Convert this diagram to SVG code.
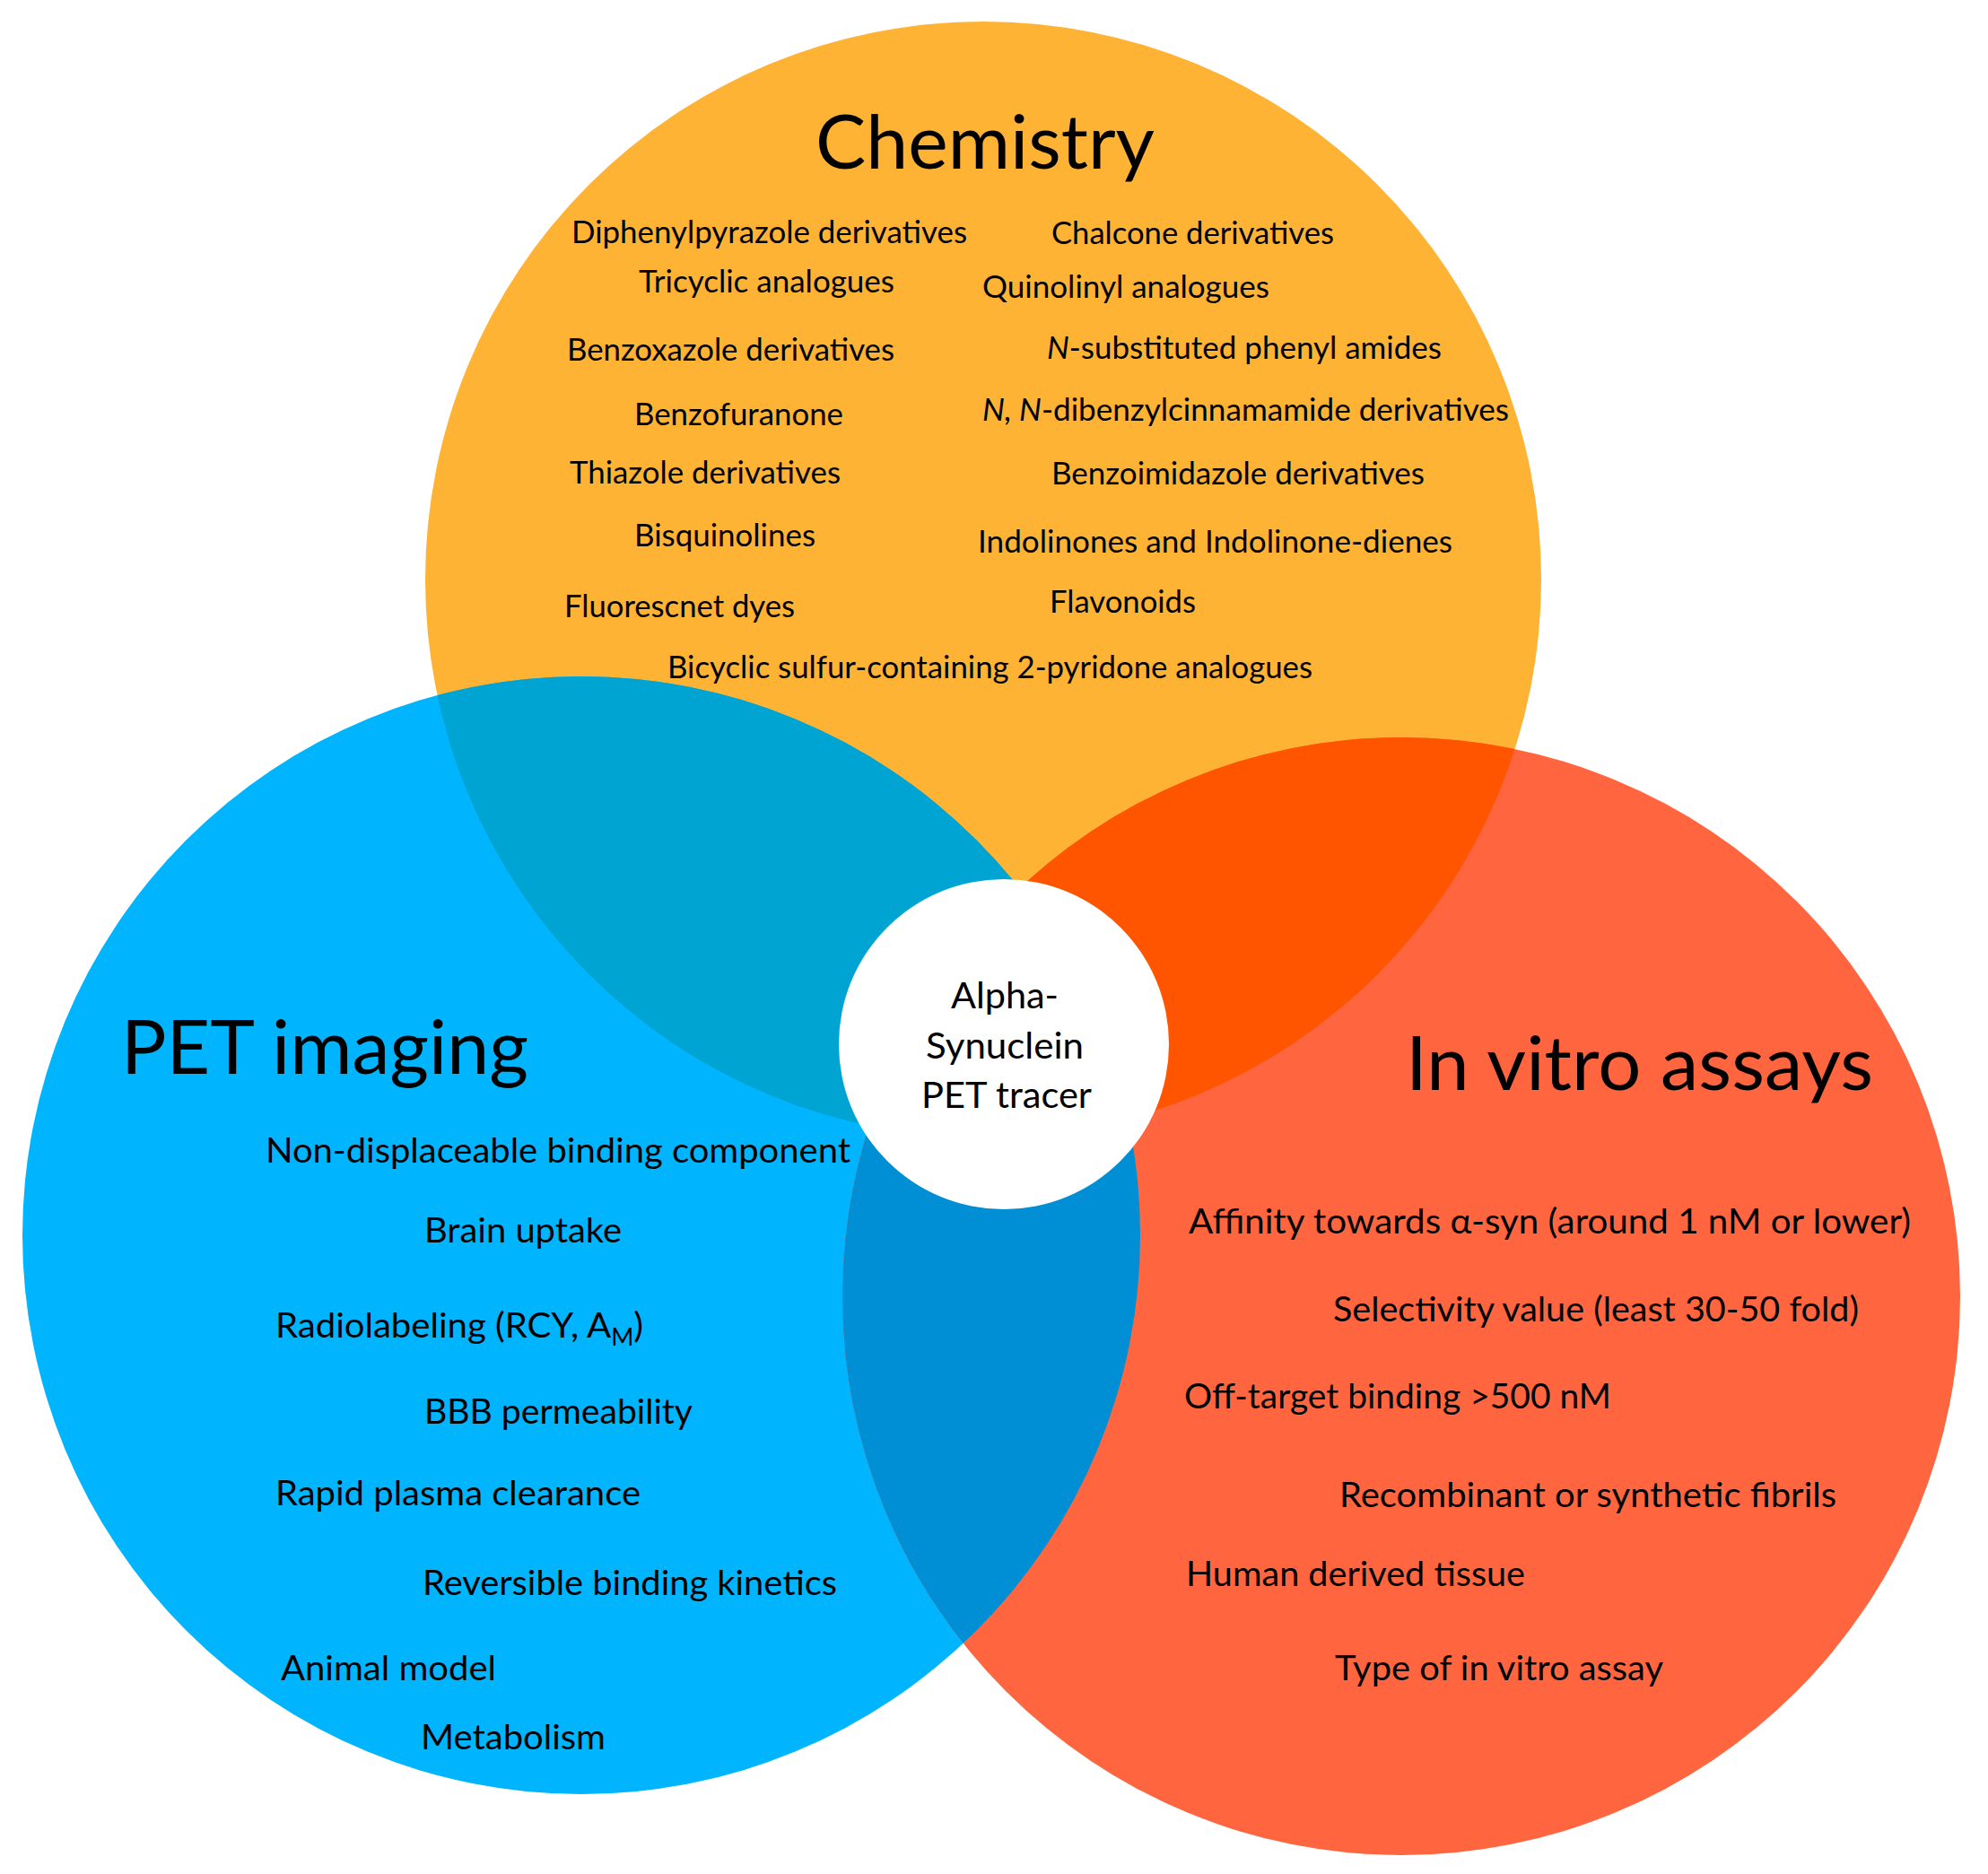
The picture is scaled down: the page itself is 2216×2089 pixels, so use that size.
<svg xmlns="http://www.w3.org/2000/svg" width="2216" height="2089" viewBox="0 0 2216 2089">
<style>
text{font-family:Lato,"Open Sans","Liberation Sans",sans-serif;fill:#000;}
.t{font-size:83px;}
.c{font-size:34px;}
.p{font-size:38.5px;}
.m{font-size:41px;}
.i{font-style:italic;}
</style>
<defs>
<clipPath id="clipChem"><circle cx="1096" cy="646" r="622"/></clipPath>
<clipPath id="clipPet"><circle cx="648" cy="1377" r="623"/></clipPath>
</defs>
<rect width="2216" height="2089" fill="#fff"/>
<g id="chemistry-circle"><circle cx="1096" cy="646" r="622" fill="#FFB335"/></g>
<g id="pet-circle"><circle cx="648" cy="1377" r="623" fill="#00B5FD"/></g>
<g id="vitro-circle"><circle cx="1562" cy="1445" r="623" fill="#FF6640"/></g>
<g id="overlaps">
<circle cx="648" cy="1377" r="623" fill="#00A4D3" clip-path="url(#clipChem)"/>
<circle cx="1562" cy="1445" r="623" fill="#FF5500" clip-path="url(#clipChem)"/>
<circle cx="1562" cy="1445" r="623" fill="#008FD5" clip-path="url(#clipPet)"/>
</g>
<g id="chemistry">
<text class="t" x="909" y="188" textLength="378" lengthAdjust="spacingAndGlyphs">Chemistry</text>
<text class="c" x="637" y="271" textLength="441" lengthAdjust="spacingAndGlyphs">Diphenylpyrazole derivatives</text>
<text class="c" x="1172" y="272" textLength="315" lengthAdjust="spacingAndGlyphs">Chalcone derivatives</text>
<text class="c" x="712" y="326" textLength="285" lengthAdjust="spacingAndGlyphs">Tricyclic analogues</text>
<text class="c" x="1095" y="332" textLength="320" lengthAdjust="spacingAndGlyphs">Quinolinyl analogues</text>
<text class="c" x="632" y="402" textLength="365" lengthAdjust="spacingAndGlyphs">Benzoxazole derivatives</text>
<text class="c" x="1167" y="400" textLength="440" lengthAdjust="spacingAndGlyphs"><tspan class="i">N</tspan>-substituted phenyl amides</text>
<text class="c" x="707" y="474" textLength="233" lengthAdjust="spacingAndGlyphs">Benzofuranone</text>
<text class="c" x="1095" y="469" textLength="587" lengthAdjust="spacingAndGlyphs"><tspan class="i">N, N</tspan>-dibenzylcinnamamide derivatives</text>
<text class="c" x="635" y="539" textLength="302" lengthAdjust="spacingAndGlyphs">Thiazole derivatives</text>
<text class="c" x="1172" y="540" textLength="416" lengthAdjust="spacingAndGlyphs">Benzoimidazole derivatives</text>
<text class="c" x="707" y="609" textLength="202" lengthAdjust="spacingAndGlyphs">Bisquinolines</text>
<text class="c" x="1090" y="616" textLength="529" lengthAdjust="spacingAndGlyphs">Indolinones and Indolinone-dienes</text>
<text class="c" x="629" y="688" textLength="257" lengthAdjust="spacingAndGlyphs">Fluorescnet dyes</text>
<text class="c" x="1170" y="683" textLength="163" lengthAdjust="spacingAndGlyphs">Flavonoids</text>
<text class="c" x="744" y="756" textLength="719" lengthAdjust="spacingAndGlyphs">Bicyclic sulfur-containing 2-pyridone analogues</text>
</g>
<g id="pet-imaging">
<text class="t" x="135" y="1197" textLength="454" lengthAdjust="spacingAndGlyphs">PET imaging</text>
<text class="p" x="296" y="1296" textLength="652" lengthAdjust="spacingAndGlyphs">Non-displaceable binding component</text>
<text class="p" x="473" y="1385" textLength="220" lengthAdjust="spacingAndGlyphs">Brain uptake</text>
<text class="p" x="307" y="1491" textLength="410" lengthAdjust="spacingAndGlyphs">Radiolabeling (RCY, A<tspan font-size="26" dy="9">M</tspan><tspan dy="-9">)</tspan></text>
<text class="p" x="473" y="1587" textLength="299" lengthAdjust="spacingAndGlyphs">BBB permeability</text>
<text class="p" x="307" y="1678" textLength="407" lengthAdjust="spacingAndGlyphs">Rapid plasma clearance</text>
<text class="p" x="471" y="1778" textLength="462" lengthAdjust="spacingAndGlyphs">Reversible binding kinetics</text>
<text class="p" x="313" y="1873" textLength="240" lengthAdjust="spacingAndGlyphs">Animal model</text>
<text class="p" x="469" y="1950" textLength="206" lengthAdjust="spacingAndGlyphs">Metabolism</text>
</g>
<g id="in-vitro-assays">
<text class="t" x="1567" y="1215" textLength="521" lengthAdjust="spacingAndGlyphs">In vitro assays</text>
<text class="p" x="1325" y="1375" textLength="805" lengthAdjust="spacingAndGlyphs">Affinity towards α-syn (around 1 nM or lower)</text>
<text class="p" x="1486" y="1473" textLength="586" lengthAdjust="spacingAndGlyphs">Selectivity value (least 30-50 fold)</text>
<text class="p" x="1320" y="1570" textLength="476" lengthAdjust="spacingAndGlyphs">Off-target binding &gt;500 nM</text>
<text class="p" x="1493" y="1680" textLength="554" lengthAdjust="spacingAndGlyphs">Recombinant or synthetic fibrils</text>
<text class="p" x="1322" y="1768" textLength="378" lengthAdjust="spacingAndGlyphs">Human derived tissue</text>
<text class="p" x="1488" y="1873" textLength="366" lengthAdjust="spacingAndGlyphs">Type of in vitro assay</text>
</g>
<g id="tracer">
<circle cx="1119" cy="1164" r="184" fill="#fff"/>
<text class="m" x="1060" y="1124" textLength="120" lengthAdjust="spacingAndGlyphs">Alpha-</text>
<text class="m" x="1032" y="1180" textLength="176" lengthAdjust="spacingAndGlyphs">Synuclein</text>
<text class="m" x="1027" y="1235" textLength="190" lengthAdjust="spacingAndGlyphs">PET tracer</text>
</g>
</svg>
